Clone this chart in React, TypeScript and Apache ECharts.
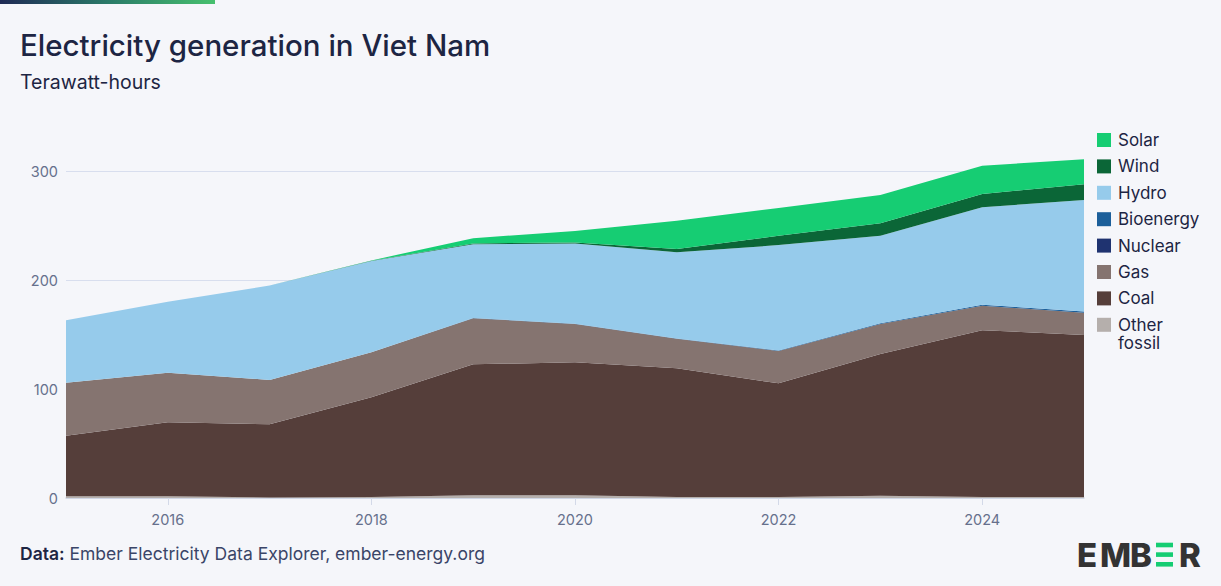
import React, { useEffect, useRef } from "react";
import * as echarts from "echarts";

const years = ["2015", "2016", "2017", "2018", "2019", "2020", "2021", "2022", "2023", "2024", "2025"];
const otherFossil = [1.5, 1.5, 0.5, 1, 2.5, 2.5, 1, 1, 2, 1, 1];
const coal = [55.7, 67.9, 67.1, 91.4, 120.1, 122, 118, 104.2, 130, 153, 148.5];
const gas = [48.6, 45.6, 40.7, 41.3, 42.4, 35.1, 27, 29.7, 27.6, 22.4, 20.5];
const nuclear = [0, 0, 0, 0, 0, 0, 0, 0, 0, 0, 0];
const bioenergy = [0, 0, 0, 0, 0.2, 0.3, 0.4, 0.5, 0.8, 1, 1];
const hydro = [57.2, 65, 86.7, 83.8, 67.5, 73.6, 79, 96.6, 80.2, 89.3, 102.4];
const wind = [0, 0, 0, 0.2, 0.8, 1, 3, 8.5, 11.4, 12.2, 14.4];
const solar = [0, 0, 0, 0.3, 4.9, 10.5, 26, 25.5, 26, 26, 23];
const yTicks = [0, 100, 200, 300];

const FONT = "Inter, 'Noto Sans', sans-serif";

const seriesDefs = [
  { name: "Other fossil", data: otherFossil, color: "#b5afac" },
  { name: "Coal", data: coal, color: "#553e3a" },
  { name: "Gas", data: gas, color: "#857470" },
  { name: "Nuclear", data: nuclear, color: "#1f3370" },
  { name: "Bioenergy", data: bioenergy, color: "#1c5f9a" },
  { name: "Hydro", data: hydro, color: "#96cbeb" },
  { name: "Wind", data: wind, color: "#0b6637" },
  { name: "Solar", data: solar, color: "#16cd73" },
];

const legendOrder = ["Solar", "Wind", "Hydro", "Bioenergy", "Nuclear", "Gas", "Coal", "Other fossil"];

export default function App() {
  const ref = useRef<HTMLDivElement>(null);
  useEffect(() => {
    if (!ref.current) return;
    const chart = echarts.init(ref.current, undefined, { renderer: "svg" });
    const option = {
      animation: false,
      backgroundColor: "#f5f6fa",
      textStyle: { fontFamily: FONT },
      grid: { left: 66, right: 137, top: 127.4, bottom: 88, containLabel: false },
      legend: {
        data: legendOrder,
        orient: "vertical",
        left: 1097,
        top: 131,
        padding: 0,
        itemWidth: 14,
        itemHeight: 14,
        itemGap: 8.4,
        icon: "rect",
        formatter: (n: string) => (n === "Other fossil" ? "Other" : n),
        textStyle: { fontFamily: FONT, fontSize: 17, color: "#1d2543", lineHeight: 18, padding: [0, 0, 0, 2] },
      },
      xAxis: {
        type: "category",
        data: years,
        boundaryGap: false,
        axisLine: { show: true, lineStyle: { color: "#cdd3e2", width: 1.5 } },
        axisTick: { show: true, length: 7, interval: (i: number) => i % 2 === 1, lineStyle: { color: "#d3d9e8" } },
        axisLabel: { interval: (i: number) => i % 2 === 1, color: "#66708c", fontSize: 14.5, margin: 14, fontFamily: FONT },
        splitLine: { show: false },
      },
      yAxis: {
        type: "value",
        min: yTicks[0],
        max: 340,
        interval: 100,
        axisLine: { show: false },
        axisTick: { show: false },
        axisLabel: { color: "#66708c", fontSize: 14.5, margin: 8, showMaxLabel: false, fontFamily: FONT,
          formatter: (v: number) => (yTicks.includes(v) ? String(v) : "") },
        splitLine: { show: true, showMaxLine: false, lineStyle: { color: "#d8deee", width: 1 } },
      },
      series: seriesDefs.map((s) => ({
        name: s.name,
        type: "line",
        stack: "total",
        data: s.data,
        symbol: "none",
        color: s.color,
        itemStyle: { color: s.color },
        lineStyle: { width: 0, color: s.color },
        areaStyle: { color: s.color, opacity: 1 },
      })),
      graphic: [
        {
          type: "rect",
          shape: { x: 0, y: 0, width: 215, height: 4 },
          style: {
            fill: new echarts.graphic.LinearGradient(0, 0, 1, 0, [
              { offset: 0, color: "#1f2a55" },
              { offset: 0.5, color: "#2a7a68" },
              { offset: 1, color: "#47c06e" },
            ]),
          },
        },
        { type: "text", x: 20, y: 44.5, style: { text: "Electricity generation in Viet Nam", fontFamily: FONT, fontSize: 29.5, fontWeight: 500, fill: "#1d2543", verticalAlign: "middle" } },
        { type: "text", x: 20, y: 81.7, style: { text: "Terawatt-hours", fontFamily: FONT, fontSize: 19.5, fill: "#1d2543", verticalAlign: "middle" } },
        { type: "text", x: 1118, y: 342.5, style: { text: "fossil", fontFamily: FONT, fontSize: 17, lineHeight: 16, fill: "#1d2543", verticalAlign: "middle" } },
        {
          type: "text", x: 20, y: 553,
          style: {
            text: "{b|Data:} Ember Electricity Data Explorer, ember-energy.org",
            fontFamily: FONT, fontSize: 17.5, fill: "#3a4568", verticalAlign: "middle",
            rich: { b: { fontFamily: FONT, fontSize: 17.5, fontWeight: 600, fill: "#1d2543" } },
          },
        },
        { type: "text", x: 1077, y: 554.7, style: { text: "E", fontFamily: FONT, fontSize: 33, fontWeight: 800, fill: "#333333", verticalAlign: "middle" } },
        { type: "text", x: 1100, y: 554.7, style: { text: "M", fontFamily: FONT, fontSize: 33, fontWeight: 800, fill: "#333333", verticalAlign: "middle" } },
        { type: "text", x: 1130, y: 554.7, style: { text: "B", fontFamily: FONT, fontSize: 33, fontWeight: 800, fill: "#333333", verticalAlign: "middle" } },
        { type: "rect", shape: { x: 1156, y: 542.7, width: 17, height: 4.6 }, style: { fill: "#16cd73" } },
        { type: "rect", shape: { x: 1156, y: 552.3, width: 17, height: 4.6 }, style: { fill: "#16cd73" } },
        { type: "rect", shape: { x: 1156, y: 562, width: 17, height: 4.6 }, style: { fill: "#16cd73" } },
        { type: "text", x: 1179, y: 554.7, style: { text: "R", fontFamily: FONT, fontSize: 33, fontWeight: 800, fill: "#333333", verticalAlign: "middle" } },
      ],
    };
    chart.setOption(option as any);
    return () => chart.dispose();
  }, []);
  return <div ref={ref} style={{ position: "fixed", left: 0, top: 0, width: 1221, height: 586 }} />;
}
